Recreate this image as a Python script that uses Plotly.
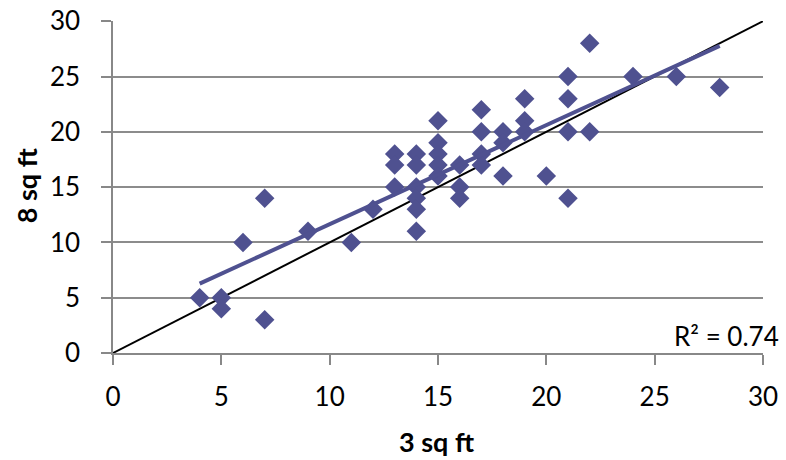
import numpy as np
import plotly.graph_objects as go

x_3sqft = [4, 5, 5, 6, 7, 7, 9, 11, 12, 13, 13, 13, 14, 14, 14, 14, 14, 14,
           15, 15, 15, 15, 15, 16, 16, 16, 17, 17, 17, 17, 18, 18, 18,
           19, 19, 19, 20, 21, 21, 21, 21, 22, 22, 24, 26, 28]
y_8sqft = [5, 5, 4, 10, 14, 3, 11, 10, 13, 18, 17, 15, 18, 17, 15, 14, 13, 11,
           21, 19, 18, 17, 16, 17, 15, 14, 22, 20, 18, 17, 20, 19, 16,
           23, 21, 20, 16, 25, 23, 20, 14, 28, 20, 25, 25, 24]
diag = [0, 30]
r2_label = "R² = 0.74"
x_title = "3 sq ft"
y_title = "8 sq ft"

color = "#4f5190"
font = "Lato"

xa = np.array(x_3sqft, float)
ya = np.array(y_8sqft, float)
m, b = np.polyfit(xa, ya, 1)
tx = np.array([xa.min(), xa.max()])
ty = m * tx + b

fig = go.Figure()
fig.add_trace(go.Scatter(x=diag, y=diag, mode="lines",
                         line=dict(color="black", width=2), showlegend=False,
                         cliponaxis=False))
fig.add_trace(go.Scatter(x=x_3sqft, y=y_8sqft, mode="markers",
                         marker=dict(symbol="diamond", size=15, color=color,
                                     line=dict(width=0)), showlegend=False))
fig.add_trace(go.Scatter(x=tx, y=ty, mode="lines",
                         line=dict(color=color, width=4), showlegend=False))

fig.add_annotation(text=r2_label, xref="paper", yref="paper", x=1.0277, y=0.051,
                   xanchor="right", yanchor="middle", showarrow=False,
                   font=dict(family=font, size=26, color="black"))
fig.add_annotation(text="<b>%s</b>" % x_title, xref="paper", yref="paper", x=0.497, y=-0.268,
                   xanchor="center", yanchor="middle", showarrow=False,
                   font=dict(family=font, size=27, color="black"))
fig.add_annotation(text="<b>%s</b>" % y_title, xref="paper", yref="paper", x=-0.134, y=0.505,
                   xanchor="center", yanchor="middle", showarrow=False, textangle=-90,
                   font=dict(family=font, size=27, color="black"))

axis_common = dict(dtick=5, tick0=0, showline=True, linecolor="#888888",
                   linewidth=1.5, ticks="outside", ticklen=10, tickcolor="#888888",
                   tickwidth=1.5, automargin=False, ticklabeloverflow="allow",
                   tickfont=dict(family=font, size=26, color="black"), zeroline=False)

fig.update_layout(
    width=786, height=460,
    margin=dict(l=113, r=23, t=21, b=107),
    plot_bgcolor="white", paper_bgcolor="white",
    xaxis=dict(**axis_common, range=[0, 30], showgrid=False, ticklabelstandoff=10),
    yaxis=dict(**axis_common, range=[0, 30.02], showgrid=True, gridcolor="#8c8c8c",
               gridwidth=1.5, ticklabelstandoff=16),
)
fig.write_html("out.html", config={"displayModeBar": False},
               post_script="document.body.style.margin='0';document.body.style.overflow='hidden';")
